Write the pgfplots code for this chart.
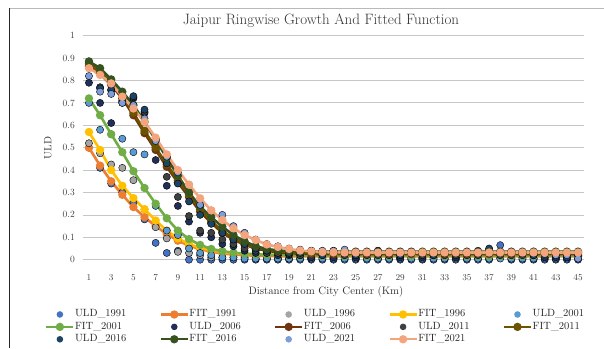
\documentclass[border=0pt]{standalone}
\usepackage{pgfplots}
\pgfplotsset{compat=1.18}
\usepackage{pgfplotstable}
\definecolor{cu91}{HTML}{4472C4}
\definecolor{cf91}{HTML}{ED7D31}
\definecolor{cu96}{HTML}{A5A5A5}
\definecolor{cf96}{HTML}{FFC000}
\definecolor{cu01}{HTML}{5B9BD5}
\definecolor{cf01}{HTML}{70AD47}
\definecolor{cu06}{HTML}{1F2F57}
\definecolor{cf06}{HTML}{6E3510}
\definecolor{cu11}{HTML}{404040}
\definecolor{cf11}{HTML}{6B5300}
\definecolor{cu16}{HTML}{1D4466}
\definecolor{cf16}{HTML}{35521F}
\definecolor{cu21}{HTML}{7C9DD9}
\definecolor{cf21}{HTML}{F4A57E}
\pgfplotstableread{
x  u91   f91   u96   f96   u01   f01   u06   f06   u11   f11   u16   f16   u21   f21
1  0.50  0.500 0.52  0.570 0.70  0.720 0.79  0.865 0.88  0.875 0.885 0.885 0.82  0.855
2  0.41  0.420 0.475 0.490 0.58  0.645 0.70  0.830 0.77  0.840 0.765 0.855 0.75  0.825
3  0.34  0.350 0.425 0.400 0.56  0.560 0.61  0.780 0.755 0.790 0.76  0.805 0.74  0.787
4  0.30  0.290 0.41  0.330 0.54  0.480 0.70  0.720 0.71  0.730 0.705 0.750 0.70  0.728
5  0.255 0.235 0.355 0.275 0.48  0.395 0.72  0.645 0.725 0.655 0.73  0.690 0.69  0.675
6  0.18  0.190 0.225 0.225 0.47  0.320 0.655 0.565 0.66  0.575 0.67  0.615 0.63  0.615
7  0.075 0.150 0.145 0.175 0.24  0.250 0.445 0.490 0.50  0.500 0.54  0.535 0.53  0.545
8  0.03  0.115 0.095 0.130 0.13  0.185 0.33  0.415 0.37  0.425 0.43  0.455 0.46  0.470
9  0.04  0.085 0.035 0.095 0.11  0.130 0.24  0.345 0.28  0.355 0.34  0.375 0.39  0.400
10 0.00  0.063 0.03  0.070 0.05  0.092 0.17  0.280 0.195 0.290 0.26  0.300 0.335 0.335
11 0.00  0.047 0.02  0.053 0.03  0.066 0.12  0.215 0.13  0.225 0.20  0.237 0.245 0.274
12 0.00  0.036 0.01  0.042 0.02  0.048 0.10  0.165 0.12  0.172 0.16  0.190 0.22  0.220
13 0.00  0.028 0.01  0.034 0.01  0.038 0.07  0.120 0.09  0.128 0.12  0.147 0.20  0.177
14 0.00  0.023 0.01  0.029 0.01  0.031 0.06  0.090 0.07  0.095 0.09  0.110 0.15  0.140
15 0.00  0.020 0.01  0.026 0.005 0.027 0.04  0.067 0.05  0.072 0.07  0.082 0.12  0.110
16 0.00  0.018 0.005 0.024 0.005 0.024 0.03  0.050 0.04  0.055 0.05  0.060 0.09  0.088
17 0.00  0.017 0.005 0.023 0.005 0.022 0.03  0.040 0.03  0.044 0.04  0.048 0.07  0.068
18 0.00  0.016 0.005 0.022 0.005 0.021 0.02  0.033 0.03  0.037 0.04  0.041 0.06  0.057
19 0.00  0.015 0.005 0.021 0.005 0.020 0.02  0.029 0.025 0.033 0.03  0.038 0.05  0.048
20 0.00  0.015 0.01  0.020 0.005 0.019 0.02  0.027 0.02  0.031 0.03  0.037 0.045 0.041
21 0.00  0.015 0.005 0.020 0.005 0.018 0.01  0.026 0.03  0.030 0.04  0.036 0.04  0.037
22 0.00  0.015 0.01  0.020 0.005 0.018 0.03  0.025 0.02  0.030 0.02  0.036 0.04  0.034
23 0.00  0.015 0.005 0.020 0.005 0.018 0.01  0.025 0.03  0.030 0.04  0.036 0.04  0.033
24 0.00  0.015 0.01  0.020 0.005 0.018 0.03  0.025 0.02  0.030 0.03  0.036 0.045 0.032
25 0.00  0.015 0.005 0.020 0.005 0.018 0.01  0.025 0.02  0.030 0.02  0.036 0.035 0.032
26 0.00  0.015 0.01  0.020 0.005 0.018 0.02  0.025 0.03  0.030 0.03  0.036 0.035 0.032
27 0.00  0.015 0.005 0.020 0.005 0.018 0.04  0.025 0.02  0.030 0.04  0.036 0.035 0.032
28 0.00  0.015 0.01  0.020 0.005 0.018 0.02  0.025 0.03  0.030 0.03  0.036 0.035 0.032
29 0.00  0.015 0.005 0.020 0.005 0.018 0.01  0.025 0.02  0.030 0.02  0.036 0.035 0.032
30 0.00  0.015 0.01  0.020 0.005 0.018 0.03  0.025 0.03  0.030 0.03  0.036 0.035 0.032
31 0.00  0.015 0.005 0.020 0.005 0.018 0.01  0.025 0.02  0.030 0.03  0.036 0.03  0.032
32 0.00  0.015 0.01  0.020 0.005 0.018 0.02  0.025 0.02  0.030 0.02  0.036 0.03  0.032
33 0.00  0.015 0.005 0.020 0.005 0.018 0.02  0.025 0.03  0.030 0.03  0.036 0.03  0.032
34 0.00  0.015 0.01  0.020 0.005 0.018 0.01  0.025 0.02  0.030 0.03  0.036 0.03  0.032
35 0.00  0.015 0.005 0.020 0.005 0.018 0.02  0.025 0.03  0.030 0.03  0.036 0.035 0.032
36 0.00  0.015 0.01  0.020 0.005 0.018 0.03  0.025 0.02  0.030 0.04  0.036 0.035 0.032
37 0.00  0.015 0.005 0.020 0.005 0.018 0.045 0.025 0.03 0.030 0.05  0.036 0.03  0.032
38 0.065 0.015 0.01  0.020 0.005 0.018 0.03  0.025 0.02  0.030 0.03  0.036 0.035 0.032
39 0.00  0.015 0.005 0.020 0.005 0.018 0.02  0.025 0.03  0.030 0.03  0.036 0.035 0.032
40 0.00  0.015 0.01  0.020 0.005 0.018 0.03  0.025 0.02  0.030 0.03  0.036 0.03  0.032
41 0.00  0.015 0.005 0.020 0.005 0.018 0.02  0.025 0.02  0.030 0.02  0.036 0.03  0.032
42 0.00  0.015 0.01  0.020 0.005 0.018 0.01  0.025 0.03  0.030 0.03  0.036 0.025 0.032
43 0.00  0.015 0.005 0.020 0.005 0.018 0.01  0.025 0.02  0.030 0.02  0.036 0.02  0.032
44 0.00  0.015 0.01  0.020 0.005 0.018 0.01  0.025 0.02  0.030 0.01  0.036 0.02  0.032
45 0.00  0.015 0.005 0.020 0.005 0.018 0.02  0.025 0.03  0.030 0.02  0.036 0.005 0.032
}\data
\pgfplotsset{
  uld/.style={only marks, mark=*, mark size=3.6pt, draw=none, fill=#1, mark options={draw=none, fill=#1},
    legend image code/.code={\fill[#1] (13.5pt,0pt) circle (3.3pt);}},
  fit/.style={#1, line width=2.6pt, mark=*, mark size=2.8pt, mark options={draw=none, fill=#1},
    legend image code/.code={\draw[#1, line width=2.4pt] (0pt,0pt) -- (27pt,0pt); \fill[#1] (13.5pt,0pt) circle (2.8pt);}},
}
\begin{document}
\begin{tikzpicture}
\useasboundingbox (0,0) rectangle (604pt,348pt);
\fill[white] (0,0) rectangle (604pt,348pt);
\draw[black!85, line width=1.1pt] (9.5pt,0pt) -- (9.5pt,339.5pt);
\draw[gray!55, line width=0.9pt] (9.5pt,339.5pt) -- (604pt,339.5pt);
\begin{axis}[
  at={(83.4pt,88.3pt)}, anchor=south west,
  scale only axis, width=500.2pt, height=224pt,
  xmin=0.5, xmax=45.5, ymin=0, ymax=1,
  clip=false,
  xtick={1,3,...,45},
  ytick={0,0.1,0.2,0.3,0.4,0.5,0.6,0.7,0.8,0.9,1},
  yticklabels={0,0.1,0.2,0.3,0.4,0.5,0.6,0.7,0.8,0.9,1},
  ymajorgrids, grid style={draw=gray!45, line width=0.8pt},
  axis line style={draw=none}, tick style={draw=none},
  tick label style={font=\fontsize{9.5}{11}\selectfont, text=black!75},
  yticklabel style={xshift=-5pt},
  xticklabel style={yshift=-11pt},
  legend columns=5,
  legend cell align=left,
  legend style={at={(-0.0768,-0.216)}, anchor=north west, draw=none, fill=none,
    font=\fontsize{10.5}{12}\selectfont, inner sep=0pt, row sep=0pt,
    nodes={inner xsep=0.5pt, inner ysep=1.2pt, text height=7.5pt, text depth=2.5pt, text=black!85},
    /tikz/every even column/.append style={text width=84pt}},
]
\addplot[uld=cu91] table[x=x,y=u91]{\data}; \addlegendentry{ULD\_1991}
\addplot[fit=cf91] table[x=x,y=f91]{\data}; \addlegendentry{FIT\_1991}
\addplot[uld=cu96] table[x=x,y=u96]{\data}; \addlegendentry{ULD\_1996}
\addplot[fit=cf96] table[x=x,y=f96]{\data}; \addlegendentry{FIT\_1996}
\addplot[uld=cu01] table[x=x,y=u01]{\data}; \addlegendentry{ULD\_2001}
\addplot[fit=cf01] table[x=x,y=f01]{\data}; \addlegendentry{FIT\_2001}
\addplot[uld=cu06] table[x=x,y=u06]{\data}; \addlegendentry{ULD\_2006}
\addplot[fit=cf06] table[x=x,y=f06]{\data}; \addlegendentry{FIT\_2006}
\addplot[uld=cu11] table[x=x,y=u11]{\data}; \addlegendentry{ULD\_2011}
\addplot[fit=cf11] table[x=x,y=f11]{\data}; \addlegendentry{FIT\_2011}
\addplot[uld=cu16] table[x=x,y=u16]{\data}; \addlegendentry{ULD\_2016}
\addplot[fit=cf16] table[x=x,y=f16]{\data}; \addlegendentry{FIT\_2016}
\addplot[uld=cu21] table[x=x,y=u21]{\data}; \addlegendentry{ULD\_2021}
\addplot[fit=cf21] table[x=x,y=f21]{\data}; \addlegendentry{FIT\_2021}
\end{axis}
\node[font=\fontsize{15}{17}\selectfont, text=black!80] at (321pt,327pt) {Jaipur Ringwise Growth And Fitted Function};
\node[font=\fontsize{10.8}{13}\selectfont, text=black!80] at (326pt,56pt) {Distance from City Center (Km)};
\node[font=\fontsize{10.5}{12}\selectfont, text=black!80, rotate=90] at (48pt,200pt) {ULD};
\end{tikzpicture}
\end{document}
